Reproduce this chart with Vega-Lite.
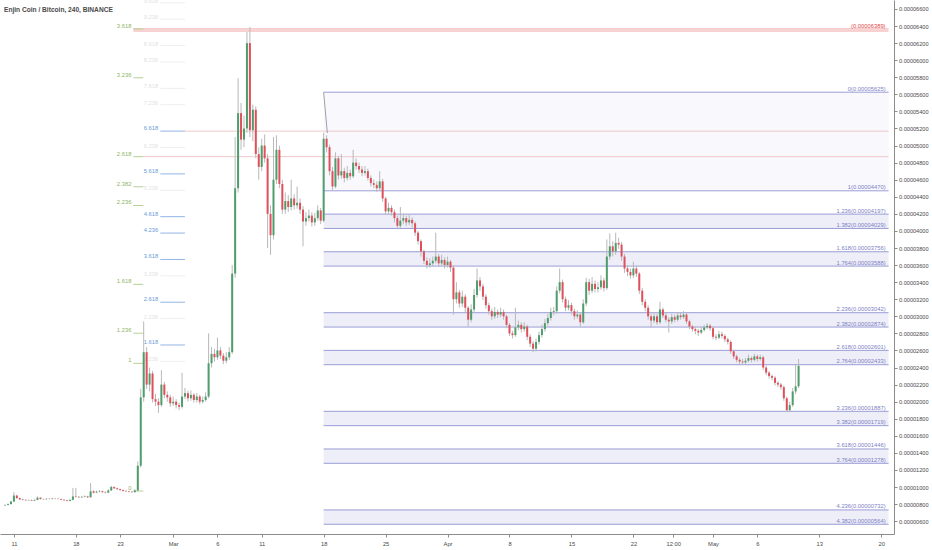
{
"$schema":"https://vega.github.io/schema/vega-lite/v6.json",
"width":894,"height":534,
"autosize":{"type":"none"},
"padding":{"left":0,"top":0,"right":38,"bottom":16},
"background":"white",
"config":{"view":{"stroke":null},"font":"Liberation Sans",
 "axis":{"grid":false,"domainColor":"#8c8c8c","tickColor":"#8c8c8c","tickSize":3,"labelFontSize":5.8,"labelColor":"#4a4a4a","labelFont":"Liberation Sans","labelOverlap":false,"labelFlush":false}},
"title":{"text":"Enjin Coin / Bitcoin, 240, BINANCE","anchor":"start","frame":"group","orient":"top","offset":-19,"dx":4,"fontSize":6.6,"fontWeight":"bold","color":"#4a4a4a","font":"Liberation Sans","baseline":"middle"},
"datasets":{
"candles":[
{"t":"2019-02-10T00:00Z","o":785,"h":798,"l":780,"c":790},
{"t":"2019-02-10T08:00Z","o":790,"h":808,"l":786,"c":800},
{"t":"2019-02-10T16:00Z","o":800,"h":840,"l":796,"c":830},
{"t":"2019-02-11T00:00Z","o":830,"h":940,"l":825,"c":900},
{"t":"2019-02-11T08:00Z","o":900,"h":910,"l":862,"c":870},
{"t":"2019-02-11T16:00Z","o":870,"h":878,"l":848,"c":855},
{"t":"2019-02-12T00:00Z","o":855,"h":862,"l":843,"c":850},
{"t":"2019-02-12T08:00Z","o":850,"h":856,"l":838,"c":845},
{"t":"2019-02-12T16:00Z","o":845,"h":855,"l":840,"c":848},
{"t":"2019-02-13T00:00Z","o":848,"h":853,"l":836,"c":842},
{"t":"2019-02-13T08:00Z","o":842,"h":857,"l":838,"c":850},
{"t":"2019-02-13T16:00Z","o":850,"h":890,"l":846,"c":875},
{"t":"2019-02-14T00:00Z","o":875,"h":880,"l":854,"c":860},
{"t":"2019-02-14T08:00Z","o":860,"h":866,"l":851,"c":858},
{"t":"2019-02-14T16:00Z","o":858,"h":869,"l":852,"c":862},
{"t":"2019-02-15T00:00Z","o":862,"h":868,"l":854,"c":860},
{"t":"2019-02-15T08:00Z","o":860,"h":872,"l":855,"c":865},
{"t":"2019-02-15T16:00Z","o":865,"h":870,"l":857,"c":863},
{"t":"2019-02-16T00:00Z","o":863,"h":868,"l":854,"c":860},
{"t":"2019-02-16T08:00Z","o":860,"h":865,"l":846,"c":852},
{"t":"2019-02-16T16:00Z","o":852,"h":857,"l":838,"c":845},
{"t":"2019-02-17T00:00Z","o":845,"h":850,"l":832,"c":838},
{"t":"2019-02-17T08:00Z","o":838,"h":858,"l":833,"c":850},
{"t":"2019-02-17T16:00Z","o":850,"h":990,"l":846,"c":890},
{"t":"2019-02-18T00:00Z","o":890,"h":990,"l":876,"c":885},
{"t":"2019-02-18T08:00Z","o":885,"h":895,"l":870,"c":880},
{"t":"2019-02-18T16:00Z","o":880,"h":896,"l":872,"c":885},
{"t":"2019-02-19T00:00Z","o":885,"h":902,"l":878,"c":890},
{"t":"2019-02-19T08:00Z","o":890,"h":898,"l":872,"c":880},
{"t":"2019-02-19T16:00Z","o":880,"h":1047,"l":876,"c":950},
{"t":"2019-02-20T00:00Z","o":950,"h":962,"l":926,"c":935},
{"t":"2019-02-20T08:00Z","o":935,"h":958,"l":928,"c":945},
{"t":"2019-02-20T16:00Z","o":945,"h":965,"l":938,"c":950},
{"t":"2019-02-21T00:00Z","o":950,"h":958,"l":932,"c":940},
{"t":"2019-02-21T08:00Z","o":940,"h":950,"l":926,"c":935},
{"t":"2019-02-21T16:00Z","o":935,"h":975,"l":930,"c":960},
{"t":"2019-02-22T00:00Z","o":960,"h":1015,"l":955,"c":1000},
{"t":"2019-02-22T08:00Z","o":1000,"h":1008,"l":975,"c":985},
{"t":"2019-02-22T16:00Z","o":985,"h":992,"l":965,"c":975},
{"t":"2019-02-23T00:00Z","o":975,"h":982,"l":956,"c":965},
{"t":"2019-02-23T08:00Z","o":965,"h":972,"l":946,"c":955},
{"t":"2019-02-23T16:00Z","o":955,"h":962,"l":942,"c":950},
{"t":"2019-02-24T00:00Z","o":950,"h":958,"l":936,"c":945},
{"t":"2019-02-24T08:00Z","o":945,"h":952,"l":932,"c":940},
{"t":"2019-02-24T16:00Z","o":940,"h":975,"l":935,"c":960},
{"t":"2019-02-25T00:00Z","o":960,"h":1300,"l":955,"c":1250},
{"t":"2019-02-25T08:00Z","o":1250,"h":2150,"l":1230,"c":2050},
{"t":"2019-02-25T16:00Z","o":2050,"h":2940,"l":2000,"c":2580},
{"t":"2019-02-26T00:00Z","o":2580,"h":2640,"l":2150,"c":2200},
{"t":"2019-02-26T08:00Z","o":2200,"h":2400,"l":2120,"c":2330},
{"t":"2019-02-26T16:00Z","o":2330,"h":2360,"l":1990,"c":2030},
{"t":"2019-02-27T00:00Z","o":2030,"h":2090,"l":1950,"c":2000},
{"t":"2019-02-27T08:00Z","o":2000,"h":2040,"l":1870,"c":1960},
{"t":"2019-02-27T16:00Z","o":1960,"h":2370,"l":1940,"c":2200},
{"t":"2019-02-28T00:00Z","o":2200,"h":2230,"l":2040,"c":2080},
{"t":"2019-02-28T08:00Z","o":2080,"h":2120,"l":2000,"c":2050},
{"t":"2019-02-28T16:00Z","o":2050,"h":2080,"l":1940,"c":1980},
{"t":"2019-03-01T00:00Z","o":1980,"h":2060,"l":1950,"c":2000},
{"t":"2019-03-01T08:00Z","o":2000,"h":2030,"l":1920,"c":1960},
{"t":"2019-03-01T16:00Z","o":1960,"h":1990,"l":1900,"c":1940},
{"t":"2019-03-02T00:00Z","o":1940,"h":2340,"l":1920,"c":2060},
{"t":"2019-03-02T08:00Z","o":2060,"h":2160,"l":2030,"c":2100},
{"t":"2019-03-02T16:00Z","o":2100,"h":2130,"l":2000,"c":2040},
{"t":"2019-03-03T00:00Z","o":2040,"h":2130,"l":2010,"c":2080},
{"t":"2019-03-03T08:00Z","o":2080,"h":2100,"l":1990,"c":2020},
{"t":"2019-03-03T16:00Z","o":2020,"h":2100,"l":1990,"c":2060},
{"t":"2019-03-04T00:00Z","o":2060,"h":2080,"l":1970,"c":2000},
{"t":"2019-03-04T08:00Z","o":2000,"h":2060,"l":1980,"c":2020},
{"t":"2019-03-04T16:00Z","o":2020,"h":2110,"l":2000,"c":2060},
{"t":"2019-03-05T00:00Z","o":2060,"h":2800,"l":2040,"c":2450},
{"t":"2019-03-05T08:00Z","o":2450,"h":2640,"l":2400,"c":2560},
{"t":"2019-03-05T16:00Z","o":2560,"h":2620,"l":2470,"c":2520},
{"t":"2019-03-06T00:00Z","o":2520,"h":2750,"l":2490,"c":2600},
{"t":"2019-03-06T08:00Z","o":2600,"h":2640,"l":2500,"c":2540},
{"t":"2019-03-06T16:00Z","o":2540,"h":2570,"l":2440,"c":2480},
{"t":"2019-03-07T00:00Z","o":2480,"h":2580,"l":2450,"c":2520},
{"t":"2019-03-07T08:00Z","o":2520,"h":2640,"l":2490,"c":2580},
{"t":"2019-03-07T16:00Z","o":2580,"h":3600,"l":2560,"c":3500},
{"t":"2019-03-08T00:00Z","o":3500,"h":5100,"l":3450,"c":4500},
{"t":"2019-03-08T08:00Z","o":4500,"h":5790,"l":4450,"c":5380},
{"t":"2019-03-08T16:00Z","o":5380,"h":5500,"l":4950,"c":5070},
{"t":"2019-03-09T00:00Z","o":5070,"h":5350,"l":4980,"c":5200},
{"t":"2019-03-09T08:00Z","o":5200,"h":6330,"l":5150,"c":6200},
{"t":"2019-03-09T16:00Z","o":6200,"h":6389,"l":5100,"c":5180},
{"t":"2019-03-10T00:00Z","o":5180,"h":5480,"l":5050,"c":5420},
{"t":"2019-03-10T08:00Z","o":5420,"h":5460,"l":4850,"c":4900},
{"t":"2019-03-10T16:00Z","o":4900,"h":4980,"l":4600,"c":4750},
{"t":"2019-03-11T00:00Z","o":4750,"h":5080,"l":4700,"c":5000},
{"t":"2019-03-11T08:00Z","o":5000,"h":5130,"l":4800,"c":4850},
{"t":"2019-03-11T16:00Z","o":4850,"h":4900,"l":3800,"c":4200},
{"t":"2019-03-12T00:00Z","o":4200,"h":4300,"l":3720,"c":3950},
{"t":"2019-03-12T08:00Z","o":3950,"h":5100,"l":3900,"c":4600},
{"t":"2019-03-12T16:00Z","o":4600,"h":5120,"l":4550,"c":4950},
{"t":"2019-03-13T00:00Z","o":4950,"h":5000,"l":4500,"c":4550},
{"t":"2019-03-13T08:00Z","o":4550,"h":4600,"l":4200,"c":4250},
{"t":"2019-03-13T16:00Z","o":4250,"h":4450,"l":4200,"c":4350},
{"t":"2019-03-14T00:00Z","o":4350,"h":4420,"l":4220,"c":4280},
{"t":"2019-03-14T08:00Z","o":4280,"h":4600,"l":4240,"c":4380},
{"t":"2019-03-14T16:00Z","o":4380,"h":4430,"l":4250,"c":4300},
{"t":"2019-03-15T00:00Z","o":4300,"h":4520,"l":4260,"c":4330},
{"t":"2019-03-15T08:00Z","o":4330,"h":4380,"l":4200,"c":4250},
{"t":"2019-03-15T16:00Z","o":4250,"h":4290,"l":3820,"c":4110},
{"t":"2019-03-16T00:00Z","o":4110,"h":4220,"l":4060,"c":4150},
{"t":"2019-03-16T08:00Z","o":4150,"h":4250,"l":4110,"c":4180},
{"t":"2019-03-16T16:00Z","o":4180,"h":4220,"l":4050,"c":4100},
{"t":"2019-03-17T00:00Z","o":4100,"h":4210,"l":4060,"c":4150},
{"t":"2019-03-17T08:00Z","o":4150,"h":4300,"l":4120,"c":4240},
{"t":"2019-03-17T16:00Z","o":4240,"h":4270,"l":4080,"c":4120},
{"t":"2019-03-18T00:00Z","o":4120,"h":5150,"l":4100,"c":5080},
{"t":"2019-03-18T08:00Z","o":5080,"h":5120,"l":4920,"c":4980},
{"t":"2019-03-18T16:00Z","o":4980,"h":5010,"l":4650,"c":4700},
{"t":"2019-03-19T00:00Z","o":4700,"h":4750,"l":4480,"c":4520},
{"t":"2019-03-19T08:00Z","o":4520,"h":4920,"l":4500,"c":4850},
{"t":"2019-03-19T16:00Z","o":4850,"h":4880,"l":4600,"c":4650},
{"t":"2019-03-20T00:00Z","o":4650,"h":4900,"l":4610,"c":4700},
{"t":"2019-03-20T08:00Z","o":4700,"h":4740,"l":4570,"c":4620},
{"t":"2019-03-20T16:00Z","o":4620,"h":4760,"l":4590,"c":4680},
{"t":"2019-03-21T00:00Z","o":4680,"h":4720,"l":4600,"c":4640},
{"t":"2019-03-21T08:00Z","o":4640,"h":4950,"l":4620,"c":4800},
{"t":"2019-03-21T16:00Z","o":4800,"h":4850,"l":4720,"c":4760},
{"t":"2019-03-22T00:00Z","o":4760,"h":4800,"l":4680,"c":4720},
{"t":"2019-03-22T08:00Z","o":4720,"h":4760,"l":4640,"c":4680},
{"t":"2019-03-22T16:00Z","o":4680,"h":4760,"l":4650,"c":4700},
{"t":"2019-03-23T00:00Z","o":4700,"h":4730,"l":4590,"c":4620},
{"t":"2019-03-23T08:00Z","o":4620,"h":4650,"l":4520,"c":4560},
{"t":"2019-03-23T16:00Z","o":4560,"h":4600,"l":4500,"c":4540},
{"t":"2019-03-24T00:00Z","o":4540,"h":4580,"l":4460,"c":4500},
{"t":"2019-03-24T08:00Z","o":4500,"h":4700,"l":4470,"c":4580},
{"t":"2019-03-24T16:00Z","o":4580,"h":4610,"l":4340,"c":4380},
{"t":"2019-03-25T00:00Z","o":4380,"h":4400,"l":4190,"c":4230},
{"t":"2019-03-25T08:00Z","o":4230,"h":4330,"l":4200,"c":4270},
{"t":"2019-03-25T16:00Z","o":4270,"h":4300,"l":4180,"c":4220},
{"t":"2019-03-26T00:00Z","o":4220,"h":4250,"l":4100,"c":4150},
{"t":"2019-03-26T08:00Z","o":4150,"h":4180,"l":4020,"c":4060},
{"t":"2019-03-26T16:00Z","o":4060,"h":4280,"l":4030,"c":4120},
{"t":"2019-03-27T00:00Z","o":4120,"h":4200,"l":4080,"c":4150},
{"t":"2019-03-27T08:00Z","o":4150,"h":4180,"l":4060,"c":4100},
{"t":"2019-03-27T16:00Z","o":4100,"h":4190,"l":4070,"c":4130},
{"t":"2019-03-28T00:00Z","o":4130,"h":4160,"l":4040,"c":4090},
{"t":"2019-03-28T08:00Z","o":4090,"h":4110,"l":3940,"c":3980},
{"t":"2019-03-28T16:00Z","o":3980,"h":4000,"l":3840,"c":3880},
{"t":"2019-03-29T00:00Z","o":3880,"h":3900,"l":3700,"c":3760},
{"t":"2019-03-29T08:00Z","o":3760,"h":3780,"l":3610,"c":3650},
{"t":"2019-03-29T16:00Z","o":3650,"h":3690,"l":3560,"c":3600},
{"t":"2019-03-30T00:00Z","o":3600,"h":3680,"l":3570,"c":3620},
{"t":"2019-03-30T08:00Z","o":3620,"h":3700,"l":3590,"c":3650},
{"t":"2019-03-30T16:00Z","o":3650,"h":3980,"l":3620,"c":3700},
{"t":"2019-03-31T00:00Z","o":3700,"h":3730,"l":3580,"c":3620},
{"t":"2019-03-31T08:00Z","o":3620,"h":3720,"l":3590,"c":3660},
{"t":"2019-03-31T16:00Z","o":3660,"h":3690,"l":3560,"c":3600},
{"t":"2019-04-01T00:00Z","o":3600,"h":3700,"l":3570,"c":3640},
{"t":"2019-04-01T08:00Z","o":3640,"h":3660,"l":3520,"c":3570},
{"t":"2019-04-01T16:00Z","o":3570,"h":3600,"l":3020,"c":3200},
{"t":"2019-04-02T00:00Z","o":3200,"h":3400,"l":3150,"c":3280},
{"t":"2019-04-02T08:00Z","o":3280,"h":3310,"l":3100,"c":3150},
{"t":"2019-04-02T16:00Z","o":3150,"h":3300,"l":3110,"c":3230},
{"t":"2019-04-03T00:00Z","o":3230,"h":3260,"l":3050,"c":3100},
{"t":"2019-04-03T08:00Z","o":3100,"h":3120,"l":2880,"c":2960},
{"t":"2019-04-03T16:00Z","o":2960,"h":3140,"l":2930,"c":3080},
{"t":"2019-04-04T00:00Z","o":3080,"h":3320,"l":3050,"c":3250},
{"t":"2019-04-04T08:00Z","o":3250,"h":3560,"l":3220,"c":3420},
{"t":"2019-04-04T16:00Z","o":3420,"h":3460,"l":3300,"c":3350},
{"t":"2019-04-05T00:00Z","o":3350,"h":3380,"l":3190,"c":3230},
{"t":"2019-04-05T08:00Z","o":3230,"h":3260,"l":3090,"c":3130},
{"t":"2019-04-05T16:00Z","o":3130,"h":3160,"l":3020,"c":3060},
{"t":"2019-04-06T00:00Z","o":3060,"h":3090,"l":2960,"c":3000},
{"t":"2019-04-06T08:00Z","o":3000,"h":3110,"l":2970,"c":3050},
{"t":"2019-04-06T16:00Z","o":3050,"h":3080,"l":2980,"c":3020},
{"t":"2019-04-07T00:00Z","o":3020,"h":3100,"l":2990,"c":3050},
{"t":"2019-04-07T08:00Z","o":3050,"h":3080,"l":2960,"c":3000},
{"t":"2019-04-07T16:00Z","o":3000,"h":3020,"l":2860,"c":2900},
{"t":"2019-04-08T00:00Z","o":2900,"h":2920,"l":2770,"c":2800},
{"t":"2019-04-08T08:00Z","o":2800,"h":2830,"l":2740,"c":2780},
{"t":"2019-04-08T16:00Z","o":2780,"h":3100,"l":2760,"c":2870},
{"t":"2019-04-09T00:00Z","o":2870,"h":2950,"l":2840,"c":2900},
{"t":"2019-04-09T08:00Z","o":2900,"h":2930,"l":2810,"c":2850},
{"t":"2019-04-09T16:00Z","o":2850,"h":2930,"l":2820,"c":2880},
{"t":"2019-04-10T00:00Z","o":2880,"h":2900,"l":2720,"c":2760},
{"t":"2019-04-10T08:00Z","o":2760,"h":2790,"l":2640,"c":2680},
{"t":"2019-04-10T16:00Z","o":2680,"h":2710,"l":2580,"c":2620},
{"t":"2019-04-11T00:00Z","o":2620,"h":2740,"l":2590,"c":2700},
{"t":"2019-04-11T08:00Z","o":2700,"h":2820,"l":2670,"c":2780},
{"t":"2019-04-11T16:00Z","o":2780,"h":2900,"l":2750,"c":2850},
{"t":"2019-04-12T00:00Z","o":2850,"h":2970,"l":2820,"c":2920},
{"t":"2019-04-12T08:00Z","o":2920,"h":3030,"l":2890,"c":2980},
{"t":"2019-04-12T16:00Z","o":2980,"h":3100,"l":2950,"c":3050},
{"t":"2019-04-13T00:00Z","o":3050,"h":3110,"l":3010,"c":3060},
{"t":"2019-04-13T08:00Z","o":3060,"h":3350,"l":3030,"c":3300},
{"t":"2019-04-13T16:00Z","o":3300,"h":3560,"l":3270,"c":3400},
{"t":"2019-04-14T00:00Z","o":3400,"h":3430,"l":3160,"c":3200},
{"t":"2019-04-14T08:00Z","o":3200,"h":3230,"l":3060,"c":3100},
{"t":"2019-04-14T16:00Z","o":3100,"h":3190,"l":3070,"c":3130},
{"t":"2019-04-15T00:00Z","o":3130,"h":3160,"l":3020,"c":3060},
{"t":"2019-04-15T08:00Z","o":3060,"h":3090,"l":2960,"c":3000},
{"t":"2019-04-15T16:00Z","o":3000,"h":3070,"l":2970,"c":3020},
{"t":"2019-04-16T00:00Z","o":3020,"h":3050,"l":2880,"c":2930},
{"t":"2019-04-16T08:00Z","o":2930,"h":3200,"l":2910,"c":3150},
{"t":"2019-04-16T16:00Z","o":3150,"h":3450,"l":3120,"c":3400},
{"t":"2019-04-17T00:00Z","o":3400,"h":3440,"l":3250,"c":3300},
{"t":"2019-04-17T08:00Z","o":3300,"h":3460,"l":3270,"c":3380},
{"t":"2019-04-17T16:00Z","o":3380,"h":3420,"l":3280,"c":3320},
{"t":"2019-04-18T00:00Z","o":3320,"h":3400,"l":3280,"c":3340},
{"t":"2019-04-18T08:00Z","o":3340,"h":3480,"l":3310,"c":3420},
{"t":"2019-04-18T16:00Z","o":3420,"h":3450,"l":3290,"c":3330},
{"t":"2019-04-19T00:00Z","o":3330,"h":3900,"l":3310,"c":3700},
{"t":"2019-04-19T08:00Z","o":3700,"h":3970,"l":3660,"c":3820},
{"t":"2019-04-19T16:00Z","o":3820,"h":3880,"l":3700,"c":3760},
{"t":"2019-04-20T00:00Z","o":3760,"h":3980,"l":3720,"c":3860},
{"t":"2019-04-20T08:00Z","o":3860,"h":3920,"l":3790,"c":3840},
{"t":"2019-04-20T16:00Z","o":3840,"h":3870,"l":3650,"c":3700},
{"t":"2019-04-21T00:00Z","o":3700,"h":3730,"l":3510,"c":3560},
{"t":"2019-04-21T08:00Z","o":3560,"h":3600,"l":3470,"c":3520},
{"t":"2019-04-21T16:00Z","o":3520,"h":3560,"l":3440,"c":3480},
{"t":"2019-04-22T00:00Z","o":3480,"h":3640,"l":3450,"c":3560},
{"t":"2019-04-22T08:00Z","o":3560,"h":3590,"l":3460,"c":3500},
{"t":"2019-04-22T16:00Z","o":3500,"h":3520,"l":3260,"c":3300},
{"t":"2019-04-23T00:00Z","o":3300,"h":3330,"l":3130,"c":3170},
{"t":"2019-04-23T08:00Z","o":3170,"h":3200,"l":3060,"c":3100},
{"t":"2019-04-23T16:00Z","o":3100,"h":3130,"l":2960,"c":3000},
{"t":"2019-04-24T00:00Z","o":3000,"h":3030,"l":2870,"c":2950},
{"t":"2019-04-24T08:00Z","o":2950,"h":3050,"l":2920,"c":3000},
{"t":"2019-04-24T16:00Z","o":3000,"h":3030,"l":2900,"c":2930},
{"t":"2019-04-25T00:00Z","o":2930,"h":3170,"l":2910,"c":3080},
{"t":"2019-04-25T08:00Z","o":3080,"h":3100,"l":2980,"c":3010},
{"t":"2019-04-25T16:00Z","o":3010,"h":3040,"l":2930,"c":2960},
{"t":"2019-04-26T00:00Z","o":2960,"h":2990,"l":2810,"c":2940},
{"t":"2019-04-26T08:00Z","o":2940,"h":3030,"l":2910,"c":2990},
{"t":"2019-04-26T16:00Z","o":2990,"h":3020,"l":2930,"c":2960},
{"t":"2019-04-27T00:00Z","o":2960,"h":3050,"l":2940,"c":3010},
{"t":"2019-04-27T08:00Z","o":3010,"h":3040,"l":2960,"c":2990},
{"t":"2019-04-27T16:00Z","o":2990,"h":3060,"l":2970,"c":3020},
{"t":"2019-04-28T00:00Z","o":3020,"h":3040,"l":2910,"c":2940},
{"t":"2019-04-28T08:00Z","o":2940,"h":2960,"l":2850,"c":2880},
{"t":"2019-04-28T16:00Z","o":2880,"h":2900,"l":2820,"c":2850},
{"t":"2019-04-29T00:00Z","o":2850,"h":2880,"l":2790,"c":2830},
{"t":"2019-04-29T08:00Z","o":2830,"h":2850,"l":2770,"c":2810},
{"t":"2019-04-29T16:00Z","o":2810,"h":2880,"l":2790,"c":2840},
{"t":"2019-04-30T00:00Z","o":2840,"h":2900,"l":2820,"c":2870},
{"t":"2019-04-30T08:00Z","o":2870,"h":2920,"l":2850,"c":2890},
{"t":"2019-04-30T16:00Z","o":2890,"h":2910,"l":2830,"c":2860},
{"t":"2019-05-01T00:00Z","o":2860,"h":2880,"l":2730,"c":2760},
{"t":"2019-05-01T08:00Z","o":2760,"h":2790,"l":2720,"c":2750},
{"t":"2019-05-01T16:00Z","o":2750,"h":2830,"l":2730,"c":2790},
{"t":"2019-05-02T00:00Z","o":2790,"h":2820,"l":2740,"c":2770},
{"t":"2019-05-02T08:00Z","o":2770,"h":2790,"l":2700,"c":2730},
{"t":"2019-05-02T16:00Z","o":2730,"h":2750,"l":2670,"c":2700},
{"t":"2019-05-03T00:00Z","o":2700,"h":2720,"l":2560,"c":2590},
{"t":"2019-05-03T08:00Z","o":2590,"h":2610,"l":2500,"c":2530},
{"t":"2019-05-03T16:00Z","o":2530,"h":2550,"l":2460,"c":2490},
{"t":"2019-05-04T00:00Z","o":2490,"h":2510,"l":2440,"c":2470},
{"t":"2019-05-04T08:00Z","o":2470,"h":2500,"l":2430,"c":2460},
{"t":"2019-05-04T16:00Z","o":2460,"h":2510,"l":2440,"c":2480},
{"t":"2019-05-05T00:00Z","o":2480,"h":2550,"l":2460,"c":2510},
{"t":"2019-05-05T08:00Z","o":2510,"h":2530,"l":2460,"c":2490},
{"t":"2019-05-05T16:00Z","o":2490,"h":2560,"l":2470,"c":2530},
{"t":"2019-05-06T00:00Z","o":2530,"h":2550,"l":2470,"c":2500},
{"t":"2019-05-06T08:00Z","o":2500,"h":2550,"l":2480,"c":2520},
{"t":"2019-05-06T16:00Z","o":2520,"h":2540,"l":2370,"c":2400},
{"t":"2019-05-07T00:00Z","o":2400,"h":2420,"l":2310,"c":2340},
{"t":"2019-05-07T08:00Z","o":2340,"h":2360,"l":2270,"c":2300},
{"t":"2019-05-07T16:00Z","o":2300,"h":2320,"l":2250,"c":2280},
{"t":"2019-05-08T00:00Z","o":2280,"h":2300,"l":2190,"c":2220},
{"t":"2019-05-08T08:00Z","o":2220,"h":2240,"l":2170,"c":2200},
{"t":"2019-05-08T16:00Z","o":2200,"h":2220,"l":2140,"c":2170},
{"t":"2019-05-09T00:00Z","o":2170,"h":2190,"l":2010,"c":2040},
{"t":"2019-05-09T08:00Z","o":2040,"h":2060,"l":1880,"c":1900},
{"t":"2019-05-09T16:00Z","o":1900,"h":2000,"l":1885,"c":1960},
{"t":"2019-05-10T00:00Z","o":1960,"h":2160,"l":1940,"c":2120},
{"t":"2019-05-10T08:00Z","o":2120,"h":2430,"l":2090,"c":2180},
{"t":"2019-05-10T16:00Z","o":2180,"h":2500,"l":2160,"c":2420}
],
"rf":[
{"v":5625,"lab":"0(0.00005625)"},
{"v":4470,"lab":"1(0.00004470)"},
{"v":4197,"lab":"1.236(0.00004197)"},
{"v":4029,"lab":"1.382(0.00004029)"},
{"v":3756,"lab":"1.618(0.00003756)"},
{"v":3588,"lab":"1.764(0.00003588)"},
{"v":3042,"lab":"2.236(0.00003042)"},
{"v":2874,"lab":"2.382(0.00002874)"},
{"v":2601,"lab":"2.618(0.00002601)"},
{"v":2433,"lab":"2.764(0.00002433)"},
{"v":1887,"lab":"3.236(0.00001887)"},
{"v":1719,"lab":"3.382(0.00001719)"},
{"v":1446,"lab":"3.618(0.00001446)"},
{"v":1278,"lab":"3.764(0.00001278)"},
{"v":732,"lab":"4.236(0.00000732)"},
{"v":564,"lab":"4.382(0.00000564)"}
],
"bands":[
{"v1":5625,"v2":4470,"k":"a"},
{"v1":4197,"v2":4029,"k":"b"},
{"v1":3756,"v2":3588,"k":"b"},
{"v1":3042,"v2":2874,"k":"b"},
{"v1":2601,"v2":2433,"k":"b"},
{"v1":1887,"v2":1719,"k":"b"},
{"v1":1446,"v2":1278,"k":"b"},
{"v1":732,"v2":564,"k":"b"}
],
"pink":[
{"v":5169,"t0":"2019-03-02T08:00Z"},
{"v":4870,"t0":"2019-02-25T15:00Z"}
],
"red":[{"v":6366},{"v":6342}],
"redlab":[{"v":6366,"lab":"(0.00006389)"}],
"lg":[
{"v":953,"lab":"0"},
{"v":2449,"lab":"1"},
{"v":2802,"lab":"1.236"},
{"v":3374,"lab":"1.618"},
{"v":4298,"lab":"2.236"},
{"v":4517,"lab":"2.382"},
{"v":4870,"lab":"2.618"},
{"v":5794,"lab":"3.236"},
{"v":6366,"lab":"3.618"}
],
"lb":[
{"v":2472,"lab":"1.236","g":"f"},
{"v":2664,"lab":"1.618","g":"b"},
{"v":2973,"lab":"2.236","g":"f"},
{"v":3165,"lab":"2.618","g":"b"},
{"v":3474,"lab":"3.236","g":"f"},
{"v":3666,"lab":"3.618","g":"b"},
{"v":3975,"lab":"4.236","g":"b"},
{"v":4167,"lab":"4.618","g":"b"},
{"v":4476,"lab":"5.236","g":"f"},
{"v":4668,"lab":"5.618","g":"b"},
{"v":4977,"lab":"6.236","g":"f"},
{"v":5169,"lab":"6.618","g":"b"},
{"v":5478,"lab":"7.236","g":"f"},
{"v":5670,"lab":"7.618","g":"f"},
{"v":5979,"lab":"8.236","g":"f"},
{"v":6171,"lab":"8.618","g":"f"},
{"v":6480,"lab":"9.236","g":"f"},
{"v":6672,"lab":"9.618","g":"f"}
],
"tl":[
{"t":"2019-03-18T00:00Z","v":5625},
{"t":"2019-03-18T10:00Z","v":5147}
]
},
"layer":[
{"data":{"name":"bands"},
 "mark":{"type":"rect"},
 "encoding":{
  "x":{"datum":{"year":2019,"month":3,"date":18,"utc":true},"type":"temporal","title":null,"scale":{"type":"utc","domain":[{"year":2019,"month":2,"date":9,"hours":23,"minutes":52,"utc":true},{"year":2019,"month":5,"date":20,"hours":21,"minutes":11,"utc":true}]}},
  "x2":{"datum":{"year":2019,"month":5,"date":20,"hours":20,"utc":true}},
  "y":{"field":"v1","type":"quantitative","title":null,"axis":{"orient":"right"},"scale":{"domain":[450,6705],"nice":false,"zero":false}},
  "y2":{"field":"v2"},
  "fill":{"field":"k","type":"nominal","legend":null,"scale":{"domain":["a","b"],"range":["#f8f8fd","#eeeef8"]}}
 }},
{"data":{"name":"rf"},
 "mark":{"type":"rule","color":"#9a9dd6","strokeWidth":1},
 "encoding":{
  "x":{"datum":{"year":2019,"month":3,"date":18,"utc":true},"type":"temporal","title":null},
  "x2":{"datum":{"year":2019,"month":5,"date":20,"hours":20,"utc":true}},
  "y":{"field":"v","type":"quantitative","title":null,"axis":{"orient":"right"}}
 }},
{"data":{"name":"pink"},
 "mark":{"type":"rule","color":"#efc9c9","strokeWidth":1},
 "encoding":{
  "x":{"field":"t0","type":"temporal","title":null},
  "x2":{"datum":{"year":2019,"month":5,"date":20,"hours":20,"utc":true}},
  "y":{"field":"v","type":"quantitative","title":null,"axis":{"orient":"right"}}
 }},
{"data":{"name":"red"},
 "mark":{"type":"rule","color":"#f0a3a3","strokeWidth":1},
 "encoding":{
  "x":{"datum":{"year":2019,"month":2,"date":24,"hours":12,"utc":true},"type":"temporal","title":null},
  "x2":{"datum":{"year":2019,"month":5,"date":20,"hours":20,"utc":true}},
  "y":{"field":"v","type":"quantitative","title":null,"axis":{"orient":"right"}}
 }},
{"data":{"name":"lg"},
 "mark":{"type":"rule","color":"#b5cf95","strokeWidth":1},
 "encoding":{
  "x":{"datum":{"year":2019,"month":2,"date":24,"hours":12,"utc":true},"type":"temporal","title":null},
  "x2":{"datum":{"year":2019,"month":2,"date":25,"hours":15,"utc":true}},
  "y":{"field":"v","type":"quantitative","title":null,"axis":{"orient":"right"}}
 }},
{"data":{"name":"lg"},
 "mark":{"type":"text","align":"right","baseline":"middle","dx":-2,"dy":-3,"fontSize":5.8,"color":"#8db565"},
 "encoding":{
  "x":{"datum":{"year":2019,"month":2,"date":24,"hours":12,"utc":true},"type":"temporal","title":null},
  "y":{"field":"v","type":"quantitative","title":null,"axis":{"orient":"right"}},
  "text":{"field":"lab"}
 }},
{"data":{"name":"lb"},
 "transform":[{"filter":"datum.g=='f'"}],
 "mark":{"type":"rule","color":"#eeeeee","strokeWidth":1},
 "encoding":{
  "x":{"datum":{"year":2019,"month":2,"date":27,"hours":13,"utc":true},"type":"temporal","title":null},
  "x2":{"datum":{"year":2019,"month":3,"date":2,"hours":8,"utc":true}},
  "y":{"field":"v","type":"quantitative","title":null,"axis":{"orient":"right"}}
 }},
{"data":{"name":"lb"},
 "transform":[{"filter":"datum.g=='f'"}],
 "mark":{"type":"text","align":"right","baseline":"middle","dx":-2,"dy":-2,"fontSize":5.8,"color":"#e2e2e2"},
 "encoding":{
  "x":{"datum":{"year":2019,"month":2,"date":27,"hours":13,"utc":true},"type":"temporal","title":null},
  "y":{"field":"v","type":"quantitative","title":null,"axis":{"orient":"right"}},
  "text":{"field":"lab"}
 }},
{"data":{"name":"lb"},
 "transform":[{"filter":"datum.g=='b'"}],
 "mark":{"type":"rule","color":"#93b5e5","strokeWidth":1},
 "encoding":{
  "x":{"datum":{"year":2019,"month":2,"date":27,"hours":13,"utc":true},"type":"temporal","title":null},
  "x2":{"datum":{"year":2019,"month":3,"date":2,"hours":8,"utc":true}},
  "y":{"field":"v","type":"quantitative","title":null,"axis":{"orient":"right"}}
 }},
{"data":{"name":"lb"},
 "transform":[{"filter":"datum.g=='b'"}],
 "mark":{"type":"text","align":"right","baseline":"middle","dx":-2,"dy":-3,"fontSize":5.8,"color":"#6b9bd9"},
 "encoding":{
  "x":{"datum":{"year":2019,"month":2,"date":27,"hours":13,"utc":true},"type":"temporal","title":null},
  "y":{"field":"v","type":"quantitative","title":null,"axis":{"orient":"right"}},
  "text":{"field":"lab"}
 }},
{"data":{"name":"tl"},
 "mark":{"type":"line","color":"#a0a0a8","strokeWidth":1},
 "encoding":{
  "x":{"field":"t","type":"temporal","title":null},
  "y":{"field":"v","type":"quantitative","title":null,"axis":{"orient":"right"}}
 }},
{"data":{"name":"candles"},
 "mark":{"type":"rule","color":"#b8b8b8","strokeWidth":1},
 "encoding":{
  "x":{"field":"t","type":"temporal","title":null},
  "y":{"field":"l","type":"quantitative","title":null,"axis":{"orient":"right"}},
  "y2":{"field":"h"}
 }},
{"data":{"name":"candles"},
 "mark":{"type":"bar","width":2},
 "encoding":{
  "x":{"field":"t","type":"temporal","title":null,
   "scale":{"type":"utc","domain":[{"year":2019,"month":2,"date":9,"hours":23,"minutes":52,"utc":true},{"year":2019,"month":5,"date":20,"hours":21,"minutes":11,"utc":true}]},
   "axis":{"orient":"bottom","labelPadding":3,"labelFontSize":5.8,"tickCount":40,
    "values":[{"year":2019,"month":2,"date":11,"utc":true},{"year":2019,"month":2,"date":18,"utc":true},{"year":2019,"month":2,"date":23,"utc":true},{"year":2019,"month":3,"date":1,"utc":true},{"year":2019,"month":3,"date":6,"utc":true},{"year":2019,"month":3,"date":11,"utc":true},{"year":2019,"month":3,"date":18,"utc":true},{"year":2019,"month":3,"date":25,"utc":true},{"year":2019,"month":4,"date":1,"utc":true},{"year":2019,"month":4,"date":8,"utc":true},{"year":2019,"month":4,"date":15,"utc":true},{"year":2019,"month":4,"date":22,"utc":true},{"year":2019,"month":4,"date":26,"hours":12,"utc":true},{"year":2019,"month":5,"date":1,"utc":true},{"year":2019,"month":5,"date":6,"utc":true},{"year":2019,"month":5,"date":13,"utc":true},{"year":2019,"month":5,"date":20,"utc":true}],
    "labelExpr":"utchours(datum.value)==12 ? '12:00' : (utcdate(datum.value)==1 ? utcFormat(datum.value,'%b') : utcFormat(datum.value,'%-d'))"}},
  "y":{"field":"o","type":"quantitative","title":null,
   "scale":{"domain":[450,6705],"nice":false,"zero":false},
   "axis":{"orient":"right","labelPadding":1.5,"labelFontSize":5.6,"tickCount":60,
    "values":[600,800,1000,1200,1400,1600,1800,2000,2200,2400,2600,2800,3000,3200,3400,3600,3800,4000,4200,4400,4600,4800,5000,5200,5400,5600,5800,6000,6200,6400,6600],
    "labelExpr":"format(datum.value/100000000,'.8f')"}},
  "y2":{"field":"c"},
  "color":{"condition":{"test":"datum.c>=datum.o","value":"#4f9c6c"},"value":"#e0505a"}
 }},
{"data":{"name":"rf"},
 "mark":{"type":"text","align":"right","baseline":"middle","dx":-3,"dy":-3.5,"fontSize":5.8,"color":"#7d81c4"},
 "encoding":{
  "x":{"datum":{"year":2019,"month":5,"date":20,"hours":20,"utc":true},"type":"temporal","title":null},
  "y":{"field":"v","type":"quantitative","title":null,"axis":{"orient":"right"}},
  "text":{"field":"lab"}
 }},
{"data":{"name":"redlab"},
 "mark":{"type":"text","align":"right","baseline":"middle","dx":-3,"dy":-2.5,"fontSize":5.8,"color":"#e04848"},
 "encoding":{
  "x":{"datum":{"year":2019,"month":5,"date":20,"hours":20,"utc":true},"type":"temporal","title":null},
  "y":{"field":"v","type":"quantitative","title":null,"axis":{"orient":"right"}},
  "text":{"field":"lab"}
 }}
]
}
